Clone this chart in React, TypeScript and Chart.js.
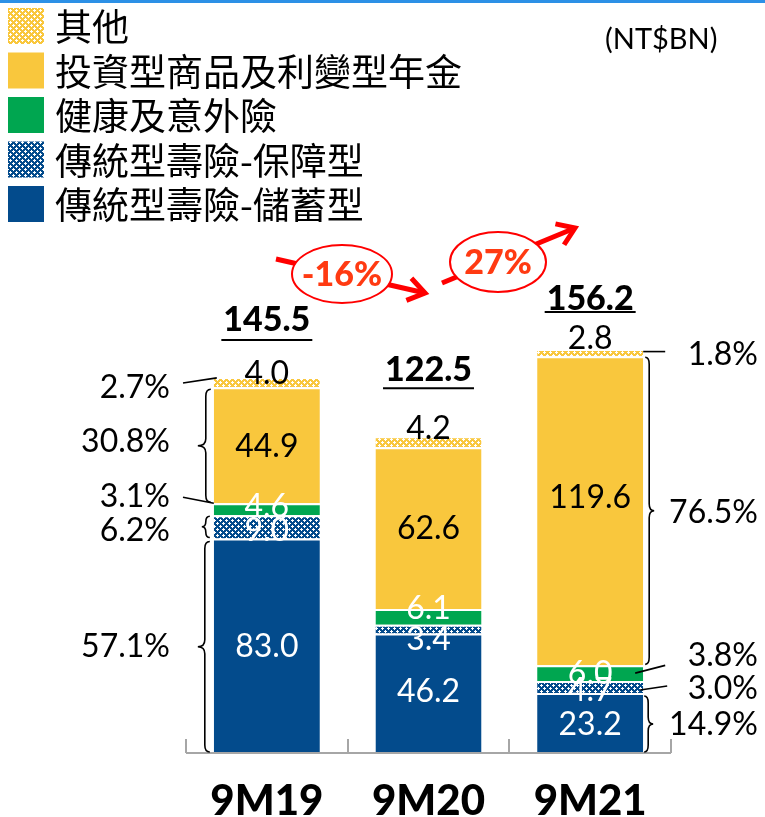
import React, { useEffect, useRef } from "react";
import { Chart, registerables } from "chart.js";

Chart.register(...registerables);

// ---------- data ----------
const categories = ["9M19", "9M20", "9M21"];
const savings = [83.0, 46.2, 23.2];
const protection = [9.0, 3.4, 4.7];
const health = [4.6, 6.1, 6.0];
const investment = [44.9, 62.6, 119.6];
const other = [4.0, 4.2, 2.8];
const totals = ["145.5", "122.5", "156.2"];
const seriesNames = [
  "傳統型壽險-儲蓄型",
  "傳統型壽險-保障型",
  "健康及意外險",
  "投資型商品及利變型年金",
  "其他",
];
const sharesFirst = ["57.1%", "6.2%", "3.1%", "30.8%", "2.7%"];
const sharesLast = ["14.9%", "3.0%", "3.8%", "76.5%", "1.8%"];
const growth = ["-16%", "27%"];
const unitLabel = "(NT$BN)";

// ---------- styles ----------
const BLUE = "#034B8C";
const GREEN = "#00A650";
const YELLOW = "#F9C73D";
const NUM_FONT = "Lato, 'Open Sans', sans-serif";
const CJK_FONT = "'Noto Sans CJK TC', 'Noto Sans', sans-serif";

function makePattern(base: string): CanvasPattern | string {
  const c = document.createElement("canvas");
  c.width = 6;
  c.height = 6;
  const g = c.getContext("2d");
  if (!g) return base;
  g.fillStyle = base;
  g.fillRect(0, 0, 6, 6);
  g.fillStyle = "#ffffff";
  g.fillRect(1, 0, 1, 3);
  g.fillRect(0, 1, 3, 1);
  g.fillRect(4, 3, 1, 3);
  g.fillRect(3, 4, 3, 1);
  const p = g.createPattern(c, "repeat");
  return p || base;
}

function brace(ctx: CanvasRenderingContext2D, x: number, y1: number, y2: number, dir: number, tip: number, curl: number) {
  const ym = (y1 + y2) / 2;
  const r = Math.min(7, (y2 - y1) / 4);
  ctx.beginPath();
  ctx.moveTo(x - dir * curl, y1);
  ctx.quadraticCurveTo(x, y1, x, y1 + r);
  ctx.lineTo(x, ym - r);
  ctx.quadraticCurveTo(x, ym, x + dir * tip, ym);
  ctx.quadraticCurveTo(x, ym, x, ym + r);
  ctx.lineTo(x, y2 - r);
  ctx.quadraticCurveTo(x, y2, x - dir * curl, y2);
  ctx.stroke();
}

function line(ctx: CanvasRenderingContext2D, x1: number, y1: number, x2: number, y2: number) {
  ctx.beginPath();
  ctx.moveTo(x1, y1);
  ctx.lineTo(x2, y2);
  ctx.stroke();
}

function arrow(ctx: CanvasRenderingContext2D, x1: number, y1: number, x2: number, y2: number) {
  ctx.save();
  ctx.strokeStyle = "#FF0000";
  ctx.lineWidth = 5;
  ctx.lineCap = "butt";
  ctx.lineJoin = "miter";
  line(ctx, x1, y1, x2, y2);
  const a = Math.atan2(y2 - y1, x2 - x1);
  const L = 20;
  ctx.beginPath();
  ctx.moveTo(x2 - L * Math.cos(a - 0.6), y2 - L * Math.sin(a - 0.6));
  ctx.lineTo(x2, y2);
  ctx.lineTo(x2 - L * Math.cos(a + 0.6), y2 - L * Math.sin(a + 0.6));
  ctx.stroke();
  ctx.restore();
}

function bubble(ctx: CanvasRenderingContext2D, cx: number, cy: number, rx: number, ry: number, text: string) {
  ctx.save();
  ctx.beginPath();
  ctx.ellipse(cx, cy, rx, ry, 0, 0, Math.PI * 2);
  ctx.fillStyle = "#ffffff";
  ctx.fill();
  ctx.strokeStyle = "#FF0000";
  ctx.lineWidth = 2;
  ctx.stroke();
  ctx.fillStyle = "#FF3A12";
  ctx.font = `900 34px ${NUM_FONT}`;
  ctx.textAlign = "center";
  ctx.textBaseline = "alphabetic";
  ctx.fillText(text, cx, cy + 12);
  ctx.restore();
}

// per-label vertical nudges (px) [dataset][category]
const valueNudge = [
  [0, -3, 0],
  [3, 9, 3],
  [-4, -9, -1],
  [0, -1, -14],
  [-10, -14, -15],
];
const firstNudge = [0, 3, -14, -5, 4];
const lastNudge = [0, 1, -19, 1, 1];
const totalGap = [58, 67, 51];
const underlineGap = [21, 19, 14];

const overlay = {
  id: "overlay",
  afterDatasetsDraw(chart: any) {
    const ctx: CanvasRenderingContext2D = chart.ctx;
    const ca = chart.chartArea;
    const n = categories.length;
    const metas = [0, 1, 2, 3, 4].map((i) => chart.getDatasetMeta(i));
    const seg = (d: number, c: number) => {
      const el = metas[d].data[c];
      const top = Math.min(el.y, el.base);
      const bot = Math.max(el.y, el.base);
      return { x: el.x, w: el.width, top, bot, mid: (top + bot) / 2 };
    };

    ctx.save();
    // top blue rule
    ctx.fillStyle = "#2C90E6";
    ctx.fillRect(0, 0, chart.width, 3);

    // axis line and ticks
    ctx.strokeStyle = "#A6A6A6";
    ctx.lineWidth = 2;
    line(ctx, ca.left, ca.bottom, ca.right, ca.bottom);
    const cw = (ca.right - ca.left) / n;
    for (let i = 0; i <= n; i++) {
      const x = Math.round(ca.left + i * cw);
      line(ctx, x, ca.bottom, x, ca.bottom - 14);
    }

    // value labels
    ctx.textAlign = "center";
    ctx.textBaseline = "alphabetic";
    ctx.font = `32px ${NUM_FONT}`;
    for (let d = 0; d < 5; d++) {
      for (let c = 0; c < n; c++) {
        const s = seg(d, c);
        const v = chart.data.datasets[d].data[c] as number;
        ctx.fillStyle = d <= 2 ? "#ffffff" : "#000000";
        ctx.fillText(v.toFixed(1), s.x, s.mid + valueNudge[d][c] + 11.5);
      }
    }

    // totals
    ctx.fillStyle = "#000000";
    ctx.strokeStyle = "#000000";
    ctx.font = `900 34px ${NUM_FONT}`;
    for (let c = 0; c < n; c++) {
      const s = seg(4, c);
      const cy = s.top - totalGap[c];
      ctx.fillText(totals[c], s.x, cy + 12);
      const tw = ctx.measureText(totals[c]).width;
      ctx.lineWidth = 2;
      line(ctx, s.x - tw / 2 - 2, cy + underlineGap[c], s.x + tw / 2 + 2, cy + underlineGap[c]);
    }

    // category labels
    ctx.font = `900 42px ${NUM_FONT}`;
    for (let c = 0; c < n; c++) {
      const s = seg(0, c);
      ctx.fillText(categories[c], s.x, 815);
    }

    // share labels
    ctx.font = `32px ${NUM_FONT}`;
    ctx.textAlign = "right";
    for (let d = 0; d < 5; d++) {
      const s = seg(d, 0);
      ctx.fillText(sharesFirst[d], 170, s.mid + firstNudge[d] + 11.5);
      const t = seg(d, n - 1);
      ctx.fillText(sharesLast[d], 758, t.mid + lastNudge[d] + 11.5);
    }

    // braces and leaders
    ctx.strokeStyle = "#000000";
    ctx.lineWidth = 1.6;
    {
      const L = (s: any) => s.x - s.w / 2;
      const inv = seg(3, 0);
      brace(ctx, L(inv) - 8, inv.top + 2, inv.bot - 1, -1, 8, 5);
      const pro = seg(1, 0);
      brace(ctx, L(pro) - 8, pro.top + 1, pro.bot - 1, -1, 4, 4);
      const sav = seg(0, 0);
      brace(ctx, L(sav) - 9, sav.top + 3, sav.bot - 1, -1, 7, 5);
      const oth = seg(4, 0);
      line(ctx, 183, oth.mid + firstNudge[4] - 3, L(oth) + 3, oth.top + 1);
      const hea = seg(2, 0);
      line(ctx, 183, hea.mid + firstNudge[2] + 2, L(hea), hea.top);
    }
    {
      const R = (s: any) => s.x + s.w / 2;
      const inv = seg(3, n - 1);
      brace(ctx, R(inv) + 6, inv.top + 1, inv.bot - 1, 1, 5, 4);
      const sav = seg(0, n - 1);
      brace(ctx, R(sav) + 5, sav.top + 3, sav.bot - 1, 1, 5, 4);
      const oth = seg(4, n - 1);
      line(ctx, R(oth), oth.mid - 1, R(oth) + 22, oth.mid - 1);
      const hea = seg(2, n - 1);
      line(ctx, R(hea) - 8, hea.mid, R(hea) + 22, hea.top);
      const pro = seg(1, n - 1);
      line(ctx, R(pro) - 3, pro.mid + 3, R(pro) + 24, pro.mid - 1);
    }

    // growth arrows
    arrow(ctx, 276, 259, 425, 293);
    bubble(ctx, 342, 274, 50, 29, growth[0]);
    arrow(ctx, 442, 283, 575, 228);
    bubble(ctx, 498, 262, 48, 30, growth[1]);

    // unit
    ctx.fillStyle = "#000000";
    ctx.font = `29px ${NUM_FONT}`;
    ctx.textAlign = "left";
    ctx.textBaseline = "alphabetic";
    ctx.fillText(unitLabel, 605, 49);

    // legend (top to bottom reversed)
    const fills = chart.data.datasets.map((ds: any) => ds.backgroundColor);
    ctx.font = `37px ${CJK_FONT}`;
    ctx.textBaseline = "middle";
    for (let k = 0; k < 5; k++) {
      const d = 4 - k;
      const y = 8 + k * 44.5;
      ctx.fillStyle = fills[d];
      ctx.fillRect(8, y, 36, 36);
      ctx.fillStyle = "#000000";
      ctx.fillText(seriesNames[d], 55, y + 19);
    }
    ctx.restore();
  },
};

export default function App() {
  const ref = useRef<HTMLCanvasElement | null>(null);
  useEffect(() => {
    if (!ref.current) return;
    const yellowPat = makePattern(YELLOW);
    const bluePat = makePattern(BLUE);
    const colors = [BLUE, bluePat, GREEN, YELLOW, yellowPat];
    const series = [savings, protection, health, investment, other];
    const chart = new Chart(ref.current, {
      type: "bar",
      data: {
        labels: categories,
        datasets: series.map((s, i) => ({
          label: seriesNames[i],
          data: s,
          backgroundColor: colors[i] as any,
          borderColor: "#ffffff",
          borderWidth: { top: 2, left: 0, right: 0, bottom: 0 },
          borderSkipped: false,
          categoryPercentage: 1,
          barPercentage: 0.656,
        })),
      },
      options: {
        responsive: false,
        maintainAspectRatio: false,
        animation: false,
        layout: { padding: { left: 186, right: 94, top: 236, bottom: 64 } },
        scales: {
          x: { stacked: true, display: false, offset: true },
          y: { stacked: true, display: false, min: 0, max: 200 },
        },
        plugins: { legend: { display: false }, tooltip: { enabled: false } },
      },
      plugins: [overlay],
    });
    return () => chart.destroy();
  }, []);
  return (
    <div style={{ position: "fixed", left: 0, top: 0, width: 765, height: 817, background: "#fff" }}>
      <canvas ref={ref} width={765} height={817} style={{ display: "block" }} />
    </div>
  );
}
